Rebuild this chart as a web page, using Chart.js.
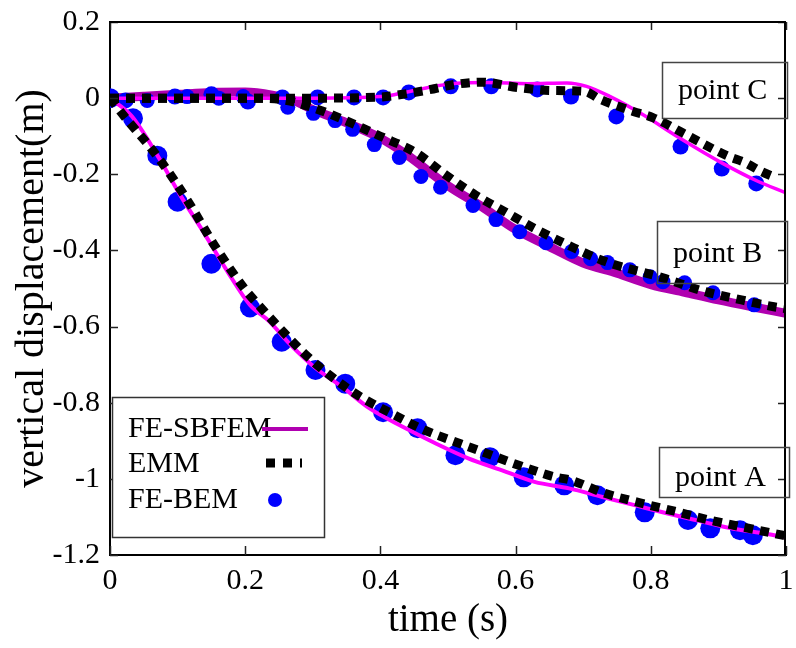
<!DOCTYPE html>
<html>
<head>
<meta charset="utf-8">
<script src="https://cdn.jsdelivr.net/npm/chart.js@4/dist/chart.umd.min.js"></script>
<style>
  html, body { margin: 0; padding: 0; background: #fff; }
  canvas { display: block; }
</style>
</head>
<body>
<canvas id="dispChart" width="796" height="648"></canvas>
<script>
// axis ticks
const xTickValues = [0, 0.2, 0.4, 0.6, 0.8, 1];
const xTickLabels = ['0', '0.2', '0.4', '0.6', '0.8', '1'];
const yTickValues = [-1.2, -1, -0.8, -0.6, -0.4, -0.2, 0, 0.2];
const yTickLabels = ['-1.2', '-1', '-0.8', '-0.6', '-0.4', '-0.2', '0', '0.2'];

// point A
const timeSbfemA = [0, 0.032, 0.071, 0.105, 0.139, 0.175, 0.207, 0.236, 0.265, 0.304, 0.343, 0.384, 0.433, 0.482, 0.530, 0.579, 0.628, 0.679, 0.727, 0.776, 0.825, 0.873, 0.922, 0.971, 1.0];
const dispSbfemA = [0, -0.047, -0.153, -0.258, -0.354, -0.459, -0.543, -0.587, -0.644, -0.709, -0.758, -0.815, -0.863, -0.907, -0.946, -0.977, -1.008, -1.025, -1.047, -1.069, -1.091, -1.111, -1.131, -1.144, -1.154];
const timeEmmA = [0, 0.019, 0.07, 0.114, 0.155, 0.2, 0.217, 0.251, 0.287, 0.328, 0.37, 0.416, 0.463, 0.511, 0.56, 0.609, 0.658, 0.681, 0.732, 0.784, 0.835, 0.884, 0.934, 0.984, 1.0];
const dispEmmA = [0, -0.043, -0.153, -0.267, -0.388, -0.503, -0.538, -0.604, -0.67, -0.732, -0.784, -0.828, -0.87, -0.903, -0.935, -0.967, -0.995, -1.003, -1.038, -1.063, -1.085, -1.107, -1.126, -1.144, -1.15];
const timeBemA = [0, 0.034, 0.07, 0.10, 0.15, 0.207, 0.254, 0.304, 0.348, 0.404, 0.455, 0.511, 0.562, 0.612, 0.672, 0.721, 0.791, 0.855, 0.888, 0.932, 0.951];
const dispBemA = [0, -0.053, -0.151, -0.272, -0.435, -0.55, -0.64, -0.714, -0.75, -0.825, -0.867, -0.938, -0.943, -0.996, -1.017, -1.043, -1.088, -1.108, -1.13, -1.135, -1.148];

// point B
const timeSbfemB = [0, 0.05, 0.1, 0.15, 0.2, 0.24, 0.27, 0.30, 0.35, 0.40, 0.44, 0.5, 0.55, 0.6, 0.65, 0.7, 0.75, 0.8, 0.85, 0.9, 0.95, 1.0];
const dispSbfemB = [0, 0.005, 0.01, 0.015, 0.016, 0.008, -0.005, -0.03, -0.065, -0.105, -0.15, -0.23, -0.285, -0.345, -0.39, -0.433, -0.46, -0.49, -0.51, -0.53, -0.548, -0.565];
const timeEmmB = [0, 0.1, 0.2, 0.25, 0.3, 0.35, 0.4, 0.453, 0.496, 0.54, 0.584, 0.632, 0.686, 0.734, 0.818, 0.88, 0.934, 0.982, 1.0];
const dispEmmB = [0, 0, 0, -0.003, -0.025, -0.06, -0.1, -0.144, -0.201, -0.254, -0.298, -0.346, -0.393, -0.43, -0.472, -0.508, -0.53, -0.548, -0.553];
const timeBemB = [0.055, 0.114, 0.161, 0.197, 0.263, 0.301, 0.333, 0.359, 0.391, 0.428, 0.46, 0.489, 0.537, 0.571, 0.606, 0.645, 0.683, 0.711, 0.736, 0.769, 0.799, 0.818, 0.85, 0.892, 0.953];
const dispBemB = [-0.006, 0.004, 0, 0.004, -0.024, -0.04, -0.059, -0.082, -0.122, -0.156, -0.206, -0.234, -0.282, -0.319, -0.351, -0.38, -0.403, -0.422, -0.432, -0.451, -0.469, -0.482, -0.485, -0.511, -0.543];

// point C
const timeSbfemC = [0, 0.1, 0.2, 0.3, 0.4, 0.423, 0.45, 0.482, 0.521, 0.56, 0.618, 0.676, 0.705, 0.74, 0.788, 0.842, 0.905, 0.959, 1.0];
const dispSbfemC = [0, 0, 0, 0, 0.004, 0.01, 0.02, 0.032, 0.04, 0.041, 0.038, 0.04, 0.031, 0.004, -0.043, -0.104, -0.17, -0.219, -0.249];
const timeEmmC = [0, 0.1, 0.2, 0.3, 0.4, 0.44, 0.472, 0.51, 0.55, 0.603, 0.652, 0.701, 0.725, 0.774, 0.803, 0.847, 0.871, 0.915, 0.939, 0.964, 0.985];
const dispEmmC = [0, 0, 0, 0, 0.003, 0.012, 0.022, 0.036, 0.042, 0.028, 0.02, 0.018, -0.003, -0.035, -0.051, -0.091, -0.114, -0.153, -0.169, -0.193, -0.209];
const timeBemC = [0.023, 0.096, 0.15, 0.204, 0.255, 0.307, 0.361, 0.404, 0.442, 0.504, 0.564, 0.632, 0.682, 0.749, 0.844, 0.905, 0.956];
const dispBemC = [-0.006, 0.004, 0.01, -0.009, 0.002, 0.002, 0.002, 0.002, 0.015, 0.031, 0.031, 0.023, 0.004, -0.048, -0.127, -0.185, -0.224];

const legendNames = ['FE-SBFEM', 'EMM', 'FE-BEM'];
const pointNames = ['point A', 'point B', 'point C'];

const serif = '"Liberation Serif", "Times New Roman", serif';
const MAGENTA = '#ff00ff';
const PURPLE = '#b000b0';
const BLUE = '#0000ff';

function toPoints(ts, vs) {
    return ts.map((t, i) => ({ x: t, y: vs[i] }));
}

function lineSet(ts, vs, color, width, order) {
    return {
        data: toPoints(ts, vs),
        borderColor: color,
        borderWidth: width,
        pointRadius: 0,
        cubicInterpolationMode: 'monotone',
        fill: false,
        order: order
    };
}

function emmSet(ts, vs) {
    return {
        data: toPoints(ts, vs),
        borderColor: '#000',
        borderWidth: 9,
        borderDash: [9, 7],
        borderCapStyle: 'butt',
        pointRadius: 0,
        cubicInterpolationMode: 'monotone',
        fill: false,
        order: 1
    };
}

function dotSet(ts, vs, r) {
    return {
        data: toPoints(ts, vs),
        showLine: false,
        pointRadius: r,
        pointBackgroundColor: BLUE,
        pointBorderWidth: 0,
        borderColor: BLUE,
        order: 4
    };
}

// frame, inward ticks, legend and point labels
const decorations = {
    id: 'decorations',
    afterDatasetsDraw(chart) {
        const { ctx, chartArea: a, scales: { x, y } } = chart;
        ctx.save();
        ctx.strokeStyle = '#222';
        ctx.lineWidth = 1.5;
        ctx.beginPath();
        xTickValues.forEach(v => {
            const px = Math.round(x.getPixelForValue(v)) + 0.5;
            ctx.moveTo(px, a.bottom);
            ctx.lineTo(px, a.bottom - 9);
            ctx.moveTo(px, a.top);
            ctx.lineTo(px, a.top + 8);
        });
        yTickValues.forEach(v => {
            const py = Math.round(y.getPixelForValue(v)) + 0.5;
            ctx.moveTo(a.left, py);
            ctx.lineTo(a.left + 8, py);
            ctx.moveTo(a.right, py);
            ctx.lineTo(a.right - 8, py);
        });
        ctx.stroke();

        // top and right border
        ctx.strokeStyle = '#000';
        ctx.lineWidth = 2;
        ctx.beginPath();
        ctx.moveTo(a.left, a.top);
        ctx.lineTo(a.right - 1, a.top);
        ctx.lineTo(a.right - 1, a.bottom);
        ctx.stroke();
        ctx.restore();
    },
    afterDraw(chart) {
        const { ctx, chartArea: a } = chart;
        ctx.save();

        // legend box
        const lx = a.left + 2, ly = 397;
        ctx.fillStyle = '#fff';
        ctx.fillRect(lx, ly, 212, 140);
        ctx.strokeStyle = '#333';
        ctx.lineWidth = 1.5;
        ctx.strokeRect(lx + 0.5, ly + 0.5, 212, 140);

        ctx.font = '30px ' + serif;
        ctx.fillStyle = '#000';
        ctx.textAlign = 'left';
        ctx.textBaseline = 'alphabetic';
        const baselines = [437, 472, 508];
        legendNames.forEach((name, i) => ctx.fillText(name, lx + 16, baselines[i]));

        // FE-SBFEM sample
        ctx.strokeStyle = PURPLE;
        ctx.lineWidth = 4;
        ctx.beginPath();
        ctx.moveTo(lx + 150, 429);
        ctx.lineTo(lx + 196, 429);
        ctx.stroke();

        // EMM sample
        ctx.strokeStyle = '#000';
        ctx.lineWidth = 9;
        ctx.setLineDash([9, 8]);
        ctx.beginPath();
        ctx.moveTo(lx + 154, 463);
        ctx.lineTo(lx + 190, 463);
        ctx.stroke();
        ctx.setLineDash([]);

        // FE-BEM sample
        ctx.fillStyle = BLUE;
        ctx.beginPath();
        ctx.arc(lx + 163, 500, 7, 0, Math.PI * 2);
        ctx.fill();

        // point labels
        const boxes = [
            { x: 659, y: 447, w: 130, h: 50, tx: 675, ty: 486 },
            { x: 657, y: 221, w: 130, h: 62, tx: 673, ty: 262 },
            { x: 662, y: 62, w: 125, h: 56, tx: 678, ty: 99 }
        ];
        ctx.strokeStyle = '#444';
        ctx.lineWidth = 1.5;
        ctx.fillStyle = '#000';
        ctx.font = '30px ' + serif;
        boxes.forEach((b, i) => {
            ctx.strokeRect(b.x + 0.5, b.y + 0.5, b.w, b.h);
            ctx.fillText(pointNames[i], b.tx, b.ty);
        });
        ctx.restore();
    }
};

const ctx = document.getElementById('dispChart').getContext('2d');

const chart = new Chart(ctx, {
    type: 'line',
    data: {
        datasets: [
            lineSet(timeSbfemB, dispSbfemB, PURPLE, 9, 6),
            dotSet(timeBemA, dispBemA, 10),
            dotSet(timeBemB, dispBemB, 7.5),
            dotSet(timeBemC, dispBemC, 8),
            lineSet(timeSbfemA, dispSbfemA, MAGENTA, 4, 3),
            lineSet(timeSbfemC, dispSbfemC, MAGENTA, 3.5, 3),
            emmSet(timeEmmA, dispEmmA),
            emmSet(timeEmmB, dispEmmB),
            emmSet(timeEmmC, dispEmmC)
        ]
    },
    options: {
        responsive: false,
        animation: false,
        devicePixelRatio: 1,
        layout: { padding: { top: 22, right: 1, left: 0, bottom: 0 } },
        plugins: {
            legend: { display: false },
            tooltip: { enabled: false }
        },
        scales: {
            x: {
                type: 'linear',
                min: 0,
                max: 1,
                grid: { display: false, drawTicks: false },
                border: { display: true, color: '#000', width: 2 },
                afterBuildTicks(scale) {
                    scale.ticks = xTickValues.map(v => ({ value: v }));
                },
                ticks: {
                    autoSkip: false,
                    maxRotation: 0,
                    padding: 8,
                    color: '#000',
                    font: { family: serif, size: 30 },
                    callback: (v, i) => xTickLabels[i]
                },
                title: {
                    display: true,
                    text: 'time (s)',
                    color: '#000',
                    font: { family: serif, size: 39 },
                    padding: { top: 0, bottom: 4 }
                },
                afterFit(scale) {
                    scale.height = 93;
                    scale.paddingLeft = 0;
                    scale.paddingRight = 0;
                }
            },
            y: {
                type: 'linear',
                min: -1.2,
                max: 0.2,
                grid: { display: false, drawTicks: false },
                border: { display: true, color: '#000', width: 2 },
                afterBuildTicks(scale) {
                    scale.ticks = yTickValues.map(v => ({ value: v }));
                },
                ticks: {
                    autoSkip: false,
                    padding: 10,
                    color: '#000',
                    font: { family: serif, size: 30 },
                    callback: (v, i) => yTickLabels[i]
                },
                title: {
                    display: true,
                    text: 'vertical displacement(m)',
                    color: '#000',
                    font: { family: serif, size: 40 },
                    padding: { top: 8, bottom: 0 }
                },
                afterFit(scale) {
                    scale.width = 110;
                    scale.paddingTop = 0;
                    scale.paddingBottom = 0;
                }
            }
        }
    },
    plugins: [decorations]
});
</script>
</body>
</html>
